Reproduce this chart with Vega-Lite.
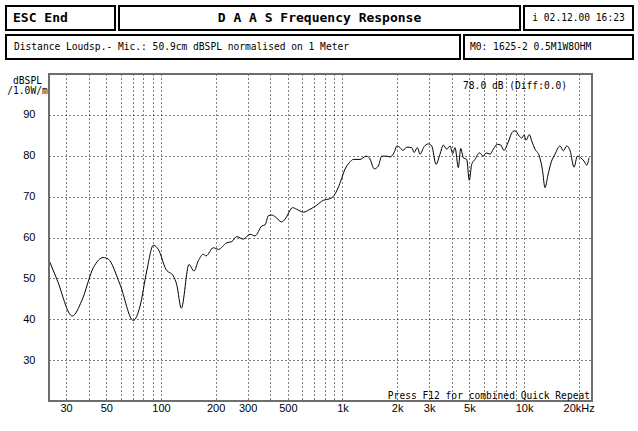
{
  "$schema": "https://vega.github.io/schema/vega-lite/v6.json",
  "background": "white",
  "padding": {"left": 5, "top": 5, "right": 4, "bottom": 2},
  "config": {"font": "Liberation Sans"},
  "datasets": {
    "curve": [
      {"f": 24.2, "db": 54.4}, {"f": 26.7, "db": 49.8}, {"f": 32.5, "db": 40.8}, {"f": 36.6, "db": 44.5},
      {"f": 42.4, "db": 52.6}, {"f": 48.1, "db": 55.1}, {"f": 51.3, "db": 54.7}, {"f": 59.5, "db": 48.5},
      {"f": 70.4, "db": 39.7}, {"f": 76.7, "db": 43.2}, {"f": 83.5, "db": 51.8}, {"f": 90.8, "db": 58.1},
      {"f": 96.7, "db": 57.1}, {"f": 106.6, "db": 52.2}, {"f": 117, "db": 50.6}, {"f": 122.1, "db": 48.5},
      {"f": 129.5, "db": 42.7}, {"f": 142.7, "db": 53.4}, {"f": 152.1, "db": 51.8}, {"f": 160.6, "db": 54.3},
      {"f": 171.2, "db": 55.9}, {"f": 177.1, "db": 55.5}, {"f": 194.3, "db": 57.5}, {"f": 207, "db": 57.1},
      {"f": 230.3, "db": 58.7}, {"f": 245.4, "db": 59.0}, {"f": 261.5, "db": 60.2}, {"f": 284.3, "db": 59.6},
      {"f": 309.5, "db": 60.8}, {"f": 329.8, "db": 60.4}, {"f": 359.1, "db": 62.8}, {"f": 374.4, "db": 63.1},
      {"f": 390.4, "db": 65.3}, {"f": 407.5, "db": 65.5}, {"f": 425, "db": 65.1}, {"f": 462.8, "db": 63.8},
      {"f": 482.6, "db": 64.5}, {"f": 531.9, "db": 67.3}, {"f": 559.7, "db": 66.9}, {"f": 608.5, "db": 66.2},
      {"f": 662.3, "db": 66.9}, {"f": 721.1, "db": 67.9}, {"f": 784.2, "db": 69.1}, {"f": 818.7, "db": 69.3},
      {"f": 872.2, "db": 69.7}, {"f": 929.4, "db": 71.4}, {"f": 977.7, "db": 73.8}, {"f": 1032, "db": 76.7},
      {"f": 1091, "db": 78.3}, {"f": 1147, "db": 79.1}, {"f": 1249, "db": 79.1}, {"f": 1348, "db": 79.9},
      {"f": 1405, "db": 79.5}, {"f": 1497, "db": 76.8}, {"f": 1575, "db": 77.5}, {"f": 1645, "db": 79.9},
      {"f": 1753, "db": 79.9}, {"f": 1827, "db": 79.7}, {"f": 1947, "db": 81.3}, {"f": 1990, "db": 82.4},
      {"f": 2075, "db": 82.0}, {"f": 2146, "db": 81.3}, {"f": 2258, "db": 82.1}, {"f": 2406, "db": 82.0},
      {"f": 2478, "db": 80.8}, {"f": 2583, "db": 82.0}, {"f": 2674, "db": 80.4}, {"f": 2813, "db": 82.2},
      {"f": 2971, "db": 82.9}, {"f": 3101, "db": 82.4}, {"f": 3275, "db": 77.9}, {"f": 3445, "db": 80.4},
      {"f": 3593, "db": 82.6}, {"f": 3751, "db": 81.6}, {"f": 3912, "db": 82.4}, {"f": 4048, "db": 80.5},
      {"f": 4168, "db": 82.0}, {"f": 4345, "db": 77.1}, {"f": 4479, "db": 81.8}, {"f": 4630, "db": 79.5},
      {"f": 4834, "db": 79.1}, {"f": 4995, "db": 74.0}, {"f": 5149, "db": 77.9}, {"f": 5370, "db": 79.1},
      {"f": 5673, "db": 80.7}, {"f": 5969, "db": 79.9}, {"f": 6175, "db": 80.7}, {"f": 6497, "db": 80.4},
      {"f": 6772, "db": 81.6}, {"f": 7129, "db": 82.8}, {"f": 7440, "db": 82.6}, {"f": 7759, "db": 81.3},
      {"f": 8091, "db": 82.8}, {"f": 8664, "db": 85.9}, {"f": 8921, "db": 86.1}, {"f": 9419, "db": 84.8},
      {"f": 9709, "db": 84.3}, {"f": 10000, "db": 85.1}, {"f": 10257, "db": 83.8}, {"f": 10695, "db": 85.2},
      {"f": 11025, "db": 83.6}, {"f": 11495, "db": 81.6}, {"f": 12144, "db": 79.9}, {"f": 12614, "db": 76.7},
      {"f": 13048, "db": 72.2}, {"f": 13505, "db": 75.0}, {"f": 14084, "db": 78.3}, {"f": 14817, "db": 80.4},
      {"f": 15785, "db": 82.4}, {"f": 16460, "db": 81.2}, {"f": 17186, "db": 82.4}, {"f": 17920, "db": 81.3},
      {"f": 18855, "db": 77.2}, {"f": 19665, "db": 79.9}, {"f": 20530, "db": 79.5}, {"f": 21400, "db": 78.7},
      {"f": 22140, "db": 77.7}, {"f": 22810, "db": 79.5}
    ]
  },
  "concat": [
    {
      "vconcat": [
        {
          "hconcat": [
            {
              "width": 109, "height": 24,
              "view": {"stroke": "black", "strokeWidth": 2},
              "data": {"values": [{"label": "ESC  End"}]},
              "mark": {"type": "text", "font": "DejaVu Sans Mono", "fontWeight": "bold", "fontSize": 13, "align": "left", "dx": 7, "color": "black"},
              "encoding": {
                "x": {"datum": 0, "type": "quantitative", "scale": {"domain": [0, 1]}, "axis": null},
                "text": {"field": "label"}
              }
            },
            {
              "width": 401, "height": 24,
              "view": {"stroke": "black", "strokeWidth": 2},
              "data": {"values": [{"label": "D A A S  Frequency Response"}]},
              "mark": {"type": "text", "font": "DejaVu Sans Mono", "fontWeight": "bold", "fontSize": 13, "color": "black"},
              "encoding": {"text": {"field": "label"}}
            },
            {
              "width": 109, "height": 24,
              "view": {"stroke": "black", "strokeWidth": 2},
              "data": {"values": [{"label": "i 02.12.00 16:23"}]},
              "mark": {"type": "text", "font": "DejaVu Sans Mono", "fontSize": 9.6, "color": "black"},
              "encoding": {"text": {"field": "label"}}
            }
          ],
          "spacing": 2
        },
        {
          "hconcat": [
            {
              "width": 454, "height": 24,
              "view": {"stroke": "black", "strokeWidth": 2},
              "data": {"values": [{"label": "Distance Loudsp.- Mic.: 50.9cm dBSPL normalised on 1 Meter"}]},
              "mark": {"type": "text", "font": "DejaVu Sans Mono", "fontSize": 9.6, "align": "left", "dx": 8, "color": "black"},
              "encoding": {
                "x": {"datum": 0, "type": "quantitative", "scale": {"domain": [0, 1]}, "axis": null},
                "text": {"field": "label"}
              }
            },
            {
              "width": 169, "height": 24,
              "view": {"stroke": "black", "strokeWidth": 2},
              "data": {"values": [{"label": "M0: 1625-2 0.5M1W8OHM"}]},
              "mark": {"type": "text", "font": "DejaVu Sans Mono", "fontSize": 9.6, "align": "left", "dx": 6, "color": "black"},
              "encoding": {
                "x": {"datum": 0, "type": "quantitative", "scale": {"domain": [0, 1]}, "axis": null},
                "text": {"field": "label"}
              }
            }
          ],
          "spacing": 2
        }
      ],
      "spacing": 3
    },
    {
      "width": 586,
      "height": 327,
      "view": {"stroke": null},
      "layer": [
        {
          "data": {"name": "curve"},
          "mark": {"type": "line", "color": "black", "strokeWidth": 1, "interpolate": "monotone"},
          "encoding": {
            "x": {
              "field": "f", "type": "quantitative",
              "scale": {"type": "log", "domain": [24.17, 23680], "range": [43, 586], "nice": false},
              "axis": {
                "values": [30, 40, 50, 60, 70, 80, 90, 100, 200, 300, 400, 500, 600, 700, 800, 900, 1000, 2000, 3000, 4000, 5000, 6000, 7000, 8000, 9000, 10000, 20000],
                "labelExpr": "datum.value == 30 ? '30' : datum.value == 50 ? '50' : datum.value == 100 ? '100' : datum.value == 200 ? '200' : datum.value == 300 ? '300' : datum.value == 500 ? '500' : datum.value == 1000 ? '1k' : datum.value == 2000 ? '2k' : datum.value == 3000 ? '3k' : datum.value == 5000 ? '5k' : datum.value == 10000 ? '10k' : datum.value == 20000 ? '20kHz' : ''",
                "title": null,
                "tickSize": 0,
                "labelPadding": 1,
                "labelFont": "Liberation Sans",
                "labelFontSize": 11,
                "labelColor": "black",
                "labelFlush": false,
                "labelOverlap": false,
                "domain": false,
                "grid": true,
                "gridColor": "black",
                "gridOpacity": 1,
                "gridDash": [1, 3],
                "gridWidth": 1
              }
            },
            "y": {
              "field": "db", "type": "quantitative",
              "scale": {"domain": [20, 100], "nice": false, "zero": false},
              "axis": {
                "values": [30, 40, 50, 60, 70, 80, 90],
                "offset": -43,
                "title": ["dBSPL", "/1.0W/m"],
                "titleAngle": 0,
                "titleX": -22,
                "titleY": 1,
                "titleAlign": "center",
                "titleBaseline": "top",
                "titleFont": "DejaVu Sans Mono",
                "titleFontWeight": "normal",
                "titleFontSize": 9.6,
                "titleLineHeight": 10,
                "titleColor": "black",
                "tickSize": 0,
                "labelPadding": 14,
                "labelFont": "Liberation Sans",
                "labelFontSize": 11,
                "labelColor": "black",
                "domain": false,
                "grid": true,
                "gridColor": "black",
                "gridOpacity": 1,
                "gridDash": [1, 3],
                "gridWidth": 1
              }
            }
          }
        },
        {
          "data": {"values": [{"label": "frame"}]},
          "mark": {"type": "rect", "fillOpacity": 0, "stroke": "#6e6e6e", "strokeWidth": 2},
          "encoding": {
            "x": {"datum": 24.17, "type": "quantitative"},
            "x2": {"datum": 23680},
            "y": {"datum": 20, "type": "quantitative"},
            "y2": {"datum": 100}
          }
        },
        {
          "data": {"values": [{"label": "78.0 dB (Diff:0.0)"}]},
          "mark": {"type": "text", "font": "DejaVu Sans Mono", "fontSize": 9.6, "align": "right", "baseline": "middle", "color": "black"},
          "encoding": {
            "x": {"datum": 17250, "type": "quantitative"},
            "y": {"datum": 97.1, "type": "quantitative"},
            "text": {"field": "label"}
          }
        },
        {
          "data": {"values": [{"label": "Press F12 for combined Quick Repeat"}]},
          "mark": {"type": "text", "font": "DejaVu Sans Mono", "fontSize": 9.6, "align": "right", "baseline": "middle", "color": "black"},
          "encoding": {
            "x": {"datum": 23090, "type": "quantitative"},
            "y": {"datum": 21.3, "type": "quantitative"},
            "text": {"field": "label"}
          }
        }
      ]
    }
  ],
  "columns": 1,
  "spacing": 13
}
